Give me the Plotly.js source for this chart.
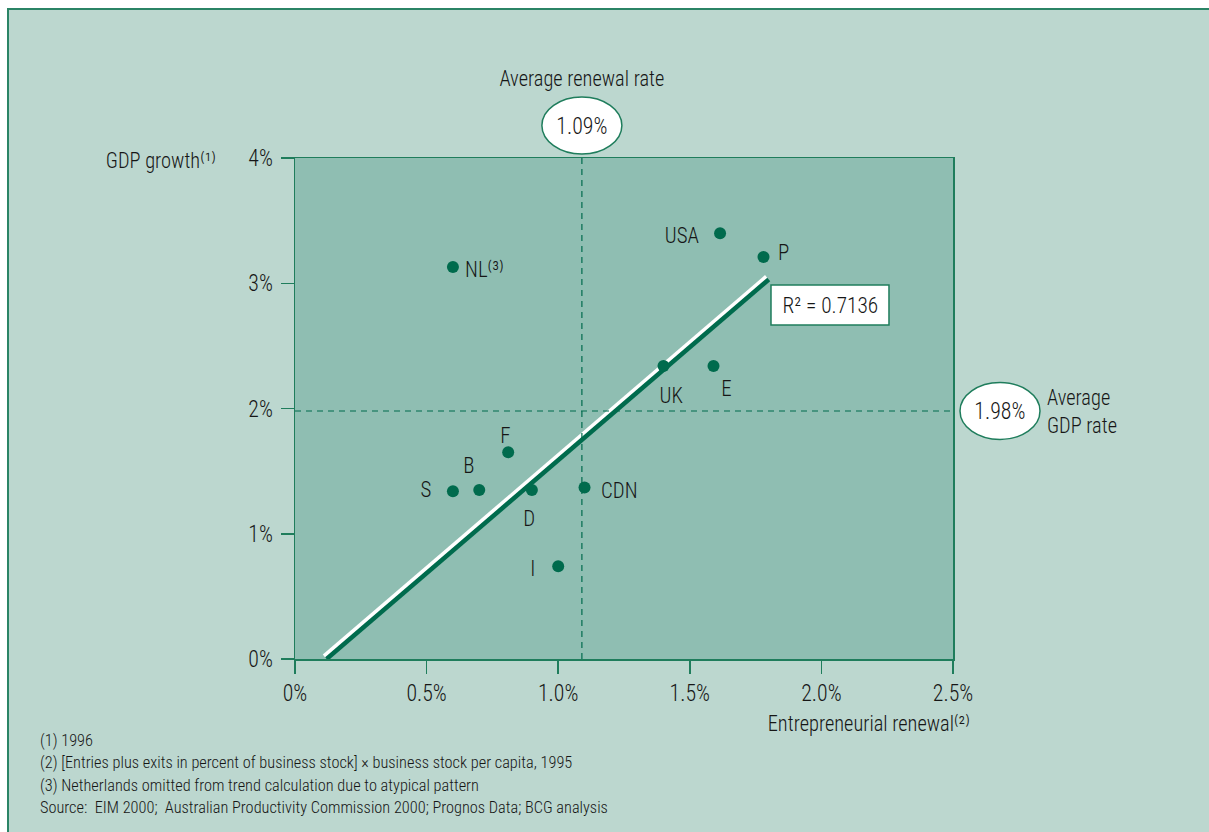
<!DOCTYPE html>
<html>
<head>
<meta charset="utf-8">
<script src="https://cdn.plot.ly/plotly-3.0.1.min.js"></script>
<style>
  html, body { margin: 0; padding: 0; background: #ffffff; }
  #panel {
    position: absolute; left: 7px; top: 8px;
    width: 1202px; height: 824px;
    background: #bcd7cf;
    border-top: 2px solid #2b8466;
    border-left: 2px solid #2b8466;
    box-sizing: border-box;
  }
  #chart { width: 1200px; height: 822px; }
</style>
</head>
<body>
<div id="panel"><div id="chart"></div></div>
<script>
// Countries: entrepreneurial renewal (%) vs GDP growth (%)
const countries = ['NL', 'USA', 'P', 'UK', 'E', 'F', 'B', 'S', 'D', 'CDN', 'I'];
const pointLabels = ['NL\u207D\u00B3\u207E', 'USA', 'P', 'UK', 'E', 'F', 'B', 'S', 'D', 'CDN', 'I'];
const renewal = [0.60, 1.615, 1.78, 1.40, 1.59, 0.81, 0.70, 0.60, 0.90, 1.10, 1.00];
const gdpGrowth = [3.13, 3.40, 3.21, 2.34, 2.34, 1.65, 1.35, 1.34, 1.35, 1.37, 0.74];

// Trend line (Netherlands excluded)
const trendX = [0.12, 1.80];
const trendY = [0.00, 3.03];
const rSquared = '0.7136';

// Averages
const avgRenewal = 1.09;
const avgGdp = 1.98;

// Axis ticks
const xTickVals = [0, 0.5, 1.0, 1.5, 2.0, 2.5];
const xTickText = ['0%', '0.5%', '1.0%', '1.5%', '2.0%', '2.5%'];
const yTickVals = [0, 1, 2, 3, 4];
const yTickText = ['0%', '1%', '2%', '3%', '4%'];

const footnotes = [
  '(1) 1996',
  '(2) [Entries plus exits in percent of business stock] \u00D7 business stock per capita, 1995',
  '(3) Netherlands omitted from trend calculation due to atypical pattern',
  'Source:  EIM 2000;  Australian Productivity Commission 2000; Prognos Data; BCG analysis'
];

// Label placement around each dot (pixels)
const labelPlacement = {
  NL:  { anchor: 'left',   dx: 10,  dy: -3 },
  USA: { anchor: 'right',  dx: -19, dy: -2 },
  P:   { anchor: 'left',   dx: 12,  dy: 4 },
  UK:  { anchor: 'center', dx: 8,   dy: -30 },
  E:   { anchor: 'center', dx: 13,  dy: -23 },
  F:   { anchor: 'center', dx: -3,  dy: 17 },
  B:   { anchor: 'center', dx: -10, dy: 24 },
  S:   { anchor: 'right',  dx: -20, dy: 2 },
  D:   { anchor: 'center', dx: -2,  dy: -29 },
  CDN: { anchor: 'left',   dx: 14,  dy: -3 },
  I:   { anchor: 'right',  dx: -21, dy: -2 }
};

const FONT = '"Roboto Condensed", "Liberation Sans Narrow", "DejaVu Sans Condensed", sans-serif';
const WEIGHT = 300;
const NARROW = 0.95;   // slight horizontal squeeze
const TEXT = '#161616';
const GREEN = '#006b4d';
const LINE_GREEN = '#1f7d5c';

function font(size) {
  return { family: FONT, size: size, color: TEXT, weight: WEIGHT };
}

const W = 1200, H = 822;
const M = { l: 286, r: 256, t: 148, b: 173 };
const plotW = W - M.l - M.r;
const plotH = H - M.t - M.b;
const xRange = [0, 2.5], yRange = [0, 4];
const pxPerX = plotW / (xRange[1] - xRange[0]);
const pxPerY = plotH / (yRange[1] - yRange[0]);

// White highlight line offset perpendicular (up-left) from the trend line
const dxPx = (trendX[1] - trendX[0]) * pxPerX;
const dyPx = (trendY[1] - trendY[0]) * pxPerY;
const len = Math.hypot(dxPx, dyPx);
const offPx = 3.8;
const offX = -(dyPx / len) * offPx / pxPerX;
const offY = (dxPx / len) * offPx / pxPerY;
const highlightX = trendX.map(v => v + offX);
const highlightY = trendY.map(v => v + offY);

const traces = [
  {
    x: highlightX, y: highlightY, mode: 'lines', type: 'scatter',
    line: { color: '#ffffff', width: 4 }, hoverinfo: 'skip', showlegend: false
  },
  {
    x: trendX, y: trendY, mode: 'lines', type: 'scatter',
    line: { color: GREEN, width: 4.5 }, hoverinfo: 'skip', showlegend: false
  },
  {
    x: renewal, y: gdpGrowth, mode: 'markers', type: 'scatter',
    marker: { color: GREEN, size: 12 }, showlegend: false,
    text: countries, hoverinfo: 'text'
  }
];

const annotations = [];
countries.forEach((c, i) => {
  const p = labelPlacement[c];
  annotations.push({
    x: renewal[i], y: gdpGrowth[i], xref: 'x', yref: 'y',
    text: pointLabels[i], showarrow: false,
    xanchor: p.anchor, yanchor: 'middle',
    xshift: p.dx, yshift: p.dy,
    font: font(22)
  });
});

// Average markers
annotations.push({
  x: avgRenewal, xref: 'x', y: 1, yref: 'paper', yanchor: 'middle', yshift: 80,
  text: 'Average renewal rate', showarrow: false, font: font(21.5)
});
annotations.push({
  x: avgRenewal, xref: 'x', y: 1, yref: 'paper', yanchor: 'middle', yshift: 32,
  text: avgRenewal.toFixed(2) + '%', showarrow: false, font: font(23)
});
annotations.push({
  x: 1, xref: 'paper', xanchor: 'center', xshift: 47, y: avgGdp, yref: 'y',
  text: avgGdp.toFixed(2) + '%', showarrow: false, font: font(23)
});
annotations.push({
  x: 1, xref: 'paper', xanchor: 'left', xshift: 92, y: avgGdp, yref: 'y', yanchor: 'middle',
  text: 'Average<br>GDP rate', align: 'left', showarrow: false, font: font(21.5)
});

// R squared label (box drawn as a shape)
annotations.push({
  x: 0.8131, xref: 'paper', y: 0.7066, yref: 'paper', xanchor: 'center', yanchor: 'middle',
  text: 'R\u00B2 = ' + rSquared, showarrow: false, font: font(22.5)
});

// Axis titles
annotations.push({
  x: 0, xref: 'paper', xanchor: 'right', xshift: -77, y: 1, yref: 'paper', yanchor: 'middle', yshift: -2,
  text: 'GDP growth\u207D\u00B9\u207E', showarrow: false, font: font(21.5)
});
annotations.push({
  x: 1, xref: 'paper', xanchor: 'right', xshift: 19, y: 0, yref: 'paper', yanchor: 'middle', yshift: -64,
  text: 'Entrepreneurial renewal\u207D\u00B2\u207E', showarrow: false, font: font(21.5)
});

// Footnotes
const footY = [81, 103, 126, 148];
footnotes.forEach((t, i) => {
  annotations.push({
    x: 0, xref: 'paper', xanchor: 'left', xshift: -257,
    y: 0, yref: 'paper', yanchor: 'middle', yshift: -footY[i],
    text: t, showarrow: false, align: 'left', font: font(17.2)
  });
});

const shapes = [
  // average renewal (vertical dashed)
  {
    type: 'line', xref: 'x', x0: avgRenewal, x1: avgRenewal, yref: 'paper', y0: 0, y1: 1,
    line: { color: GREEN, width: 1.2, dash: '6px,5px' }
  },
  // average GDP (horizontal dashed)
  {
    type: 'line', xref: 'paper', x0: 0, x1: 1, yref: 'y', y0: avgGdp, y1: avgGdp,
    line: { color: GREEN, width: 1.2, dash: '6px,5px' }
  },
  // ellipse above plot for the renewal average
  {
    type: 'circle', xref: 'x', xsizemode: 'pixel', xanchor: avgRenewal, x0: -40, x1: 40,
    yref: 'paper', ysizemode: 'pixel', yanchor: 1, y0: 4, y1: 61,
    fillcolor: '#ffffff', line: { color: LINE_GREEN, width: 1.5 }, layer: 'above'
  },
  // ellipse right of plot for the GDP average
  {
    type: 'circle', xref: 'paper', xsizemode: 'pixel', xanchor: 1, x0: 7, x1: 87,
    yref: 'y', ysizemode: 'pixel', yanchor: avgGdp, y0: -28.5, y1: 28.5,
    fillcolor: '#ffffff', line: { color: LINE_GREEN, width: 1.5 }, layer: 'above'
  },
  // box behind the R squared label
  {
    type: 'rect', xref: 'paper', yref: 'paper', x0: 0.7234, x1: 0.9027, y0: 0.6667, y1: 0.7465,
    fillcolor: '#ffffff', line: { color: LINE_GREEN, width: 1.5 }, layer: 'above'
  }
];

const axisCommon = {
  showgrid: false, zeroline: false, showline: true, mirror: true,
  linecolor: LINE_GREEN, linewidth: 1.5,
  ticks: 'outside', ticklen: 13, tickwidth: 1.5, tickcolor: LINE_GREEN,
  tickfont: font(23),
  fixedrange: true
};

const layout = {
  width: W, height: H,
  margin: M,
  paper_bgcolor: '#bcd7cf',
  plot_bgcolor: '#8fbeb2',
  showlegend: false,
  xaxis: Object.assign({}, axisCommon, {
    range: xRange, tickmode: 'array', tickvals: xTickVals, ticktext: xTickText
  }),
  yaxis: Object.assign({}, axisCommon, {
    range: yRange, tickmode: 'array', tickvals: yTickVals, ticktext: yTickText,
    ticklabelstandoff: 3
  }),
  annotations: annotations,
  shapes: shapes
};

// Squeeze a text element horizontally about a fixed x pivot
function squeeze(el, pivot) {
  const prev = el.getAttribute('transform') || '';
  el.setAttribute('transform',
    prev + ' translate(' + pivot + ',0) scale(' + NARROW + ',1) translate(' + (-pivot) + ',0)');
}

function condenseText(gd) {
  gd.querySelectorAll('.xtick text, .ytick text').forEach(t => {
    const bb = t.getBBox();
    const a = t.getAttribute('text-anchor');
    const pivot = a === 'end' ? bb.x + bb.width : a === 'start' ? bb.x : bb.x + bb.width / 2;
    squeeze(t, pivot);
  });
  gd.querySelectorAll('g.annotation').forEach(g => {
    const ann = layout.annotations[+g.getAttribute('data-index')];
    const t = g.querySelector('text.annotation-text');
    if (!t || !ann) return;
    const bb = t.getBBox();
    const pivot = ann.xanchor === 'left' ? bb.x
      : ann.xanchor === 'right' ? bb.x + bb.width : bb.x + bb.width / 2;
    squeeze(t, pivot);
  });
}

Plotly.newPlot('chart', traces, layout, { displayModeBar: false, staticPlot: true })
  .then(gd => condenseText(gd));
</script>
</body>
</html>
